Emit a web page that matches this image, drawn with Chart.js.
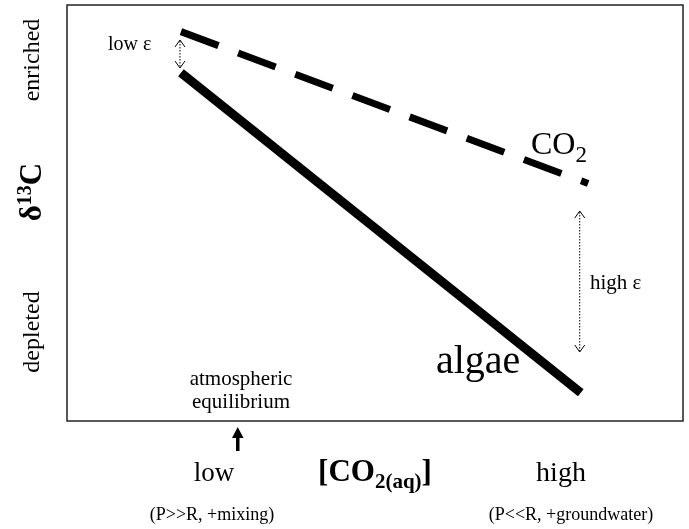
<!DOCTYPE html>
<html>
<head>
<meta charset="utf-8">
<script src="https://cdn.jsdelivr.net/npm/chart.js@4"></script>
<style>
  html, body { margin: 0; padding: 0; background: #fff; }
  #wrap { width: 689px; height: 529px; }
</style>
</head>
<body>
<div id="wrap"><canvas id="chart"></canvas></div>
<script>
// schematic: [CO2(aq)] on x (0-100), d13C on y (0-100)
const xLevels = [18.5, 84.6];
const co2Values = [93.6, 57.1];
const algaeXLevels = [18.5, 83.4];
const algaeValues = [83.7, 6.8];

const serif = '"Liberation Serif", "DejaVu Serif", serif';

// box, text and arrows
const decorations = {
    id: 'decorations',
    afterDraw(chart) {
        const ctx = chart.ctx;
        const area = chart.chartArea;
        const xs = chart.scales.x;
        ctx.save();

        ctx.strokeStyle = '#222';
        ctx.lineWidth = 1.5;
        ctx.strokeRect(area.left, area.top, area.right - area.left, area.bottom - area.top);

        ctx.fillStyle = '#000';
        ctx.textAlign = 'center';
        ctx.textBaseline = 'middle';

        function text(str, x, y, size, bold) {
            ctx.font = (bold ? 'bold ' : '') + size + 'px ' + serif;
            ctx.fillText(str, x, y);
        }

        function vText(str, x, y, size, bold) {
            ctx.save();
            ctx.translate(x, y);
            ctx.rotate(-Math.PI / 2);
            text(str, 0, 0, size, bold);
            ctx.restore();
        }

        // y axis words
        vText('enriched', 33, 60, 24);
        vText('depleted', 33, 332, 24);
        ctx.save();
        ctx.translate(33, 192);
        ctx.rotate(-Math.PI / 2);
        ctx.textAlign = 'left';
        ctx.font = 'bold 31px ' + serif;
        const w1 = ctx.measureText('δ').width;
        ctx.font = 'bold 20px ' + serif;
        const w2 = ctx.measureText('13').width;
        ctx.font = 'bold 31px ' + serif;
        const w3 = ctx.measureText('C').width;
        let sx = -(w1 + w2 + w3) / 2;
        ctx.fillText('δ', sx, 0);
        ctx.font = 'bold 20px ' + serif;
        ctx.fillText('13', sx + w1, -7);
        ctx.font = 'bold 31px ' + serif;
        ctx.fillText('C', sx + w1 + w2, 0);
        ctx.restore();

        // labels in the plot
        ctx.textAlign = 'left';
        text('low ε', 108, 45, 20);
        text('high ε', 590, 283, 21);
        text('algae', 436, 362, 40);
        ctx.font = '32px ' + serif;
        ctx.fillText('CO', 531, 146);
        const coW = ctx.measureText('CO').width;
        ctx.font = '23px ' + serif;
        ctx.fillText('2', 531 + coW, 156);

        ctx.textAlign = 'center';
        text('atmospheric', 241, 379, 21);
        text('equilibrium', 241, 402, 21);

        // x axis words
        text('low', 214, 474, 27);
        text('high', 561, 474, 28);
        text('(P>>R, +mixing)', 212, 515, 18);
        text('(P<<R, +groundwater)', 571, 515, 18);

        ctx.textAlign = 'left';
        ctx.font = 'bold 31px ' + serif;
        const b1 = ctx.measureText('[CO').width;
        ctx.font = 'bold 21px ' + serif;
        const b2 = ctx.measureText('2(aq)').width;
        ctx.font = 'bold 31px ' + serif;
        const b3 = ctx.measureText(']').width;
        let bx = 375 - (b1 + b2 + b3) / 2;
        ctx.fillText('[CO', bx, 473);
        ctx.font = 'bold 21px ' + serif;
        ctx.fillText('2(aq)', bx + b1, 483);
        ctx.font = 'bold 31px ' + serif;
        ctx.fillText(']', bx + b1 + b2, 473);

        // solid up arrow under the axis
        ctx.fillStyle = '#000';
        ctx.fillRect(236, 435, 3.5, 16);
        ctx.beginPath();
        ctx.moveTo(237.75, 427);
        ctx.lineTo(232, 438);
        ctx.lineTo(243.5, 438);
        ctx.closePath();
        ctx.fill();

        // dotted double arrows for epsilon
        function epsArrow(x, y1, y2) {
            ctx.save();
            ctx.strokeStyle = '#000';
            ctx.lineWidth = 1;
            ctx.setLineDash([1.5, 1.5]);
            ctx.beginPath();
            ctx.moveTo(x, y1 + 1);
            ctx.lineTo(x, y2 - 1);
            ctx.stroke();
            ctx.setLineDash([]);
            ctx.beginPath();
            ctx.moveTo(x - 5, y1 + 7);
            ctx.lineTo(x, y1);
            ctx.lineTo(x + 5, y1 + 7);
            ctx.moveTo(x - 5, y2 - 7);
            ctx.lineTo(x, y2);
            ctx.lineTo(x + 5, y2 - 7);
            ctx.stroke();
            ctx.restore();
        }
        epsArrow(xs.getPixelForValue(18.5) - 1, 40, 68);
        epsArrow(xs.getPixelForValue(83.4) - 1, 211, 352);

        ctx.restore();
    }
};

const ctx = document.getElementById('chart');

const data = {
    datasets: [
        {
            label: 'CO2',
            data: xLevels.map((x, i) => ({ x: x, y: co2Values[i] })),
            borderColor: '#000',
            borderWidth: 7,
            borderDash: [40, 21],
            borderCapStyle: 'butt',
            pointRadius: 0,
            fill: false
        },
        {
            label: 'algae',
            data: algaeXLevels.map((x, i) => ({ x: x, y: algaeValues[i] })),
            borderColor: '#000',
            borderWidth: 9,
            borderCapStyle: 'butt',
            pointRadius: 0,
            fill: false
        }
    ]
};

const options = {
    responsive: true,
    maintainAspectRatio: false,
    animation: false,
    layout: {
        padding: { left: 67, top: 5, right: 6, bottom: 108 }
    },
    plugins: {
        legend: { display: false },
        tooltip: { enabled: false }
    },
    scales: {
        x: { type: 'linear', min: 0, max: 100, display: false },
        y: { type: 'linear', min: 0, max: 100, display: false }
    }
};

const chart = new Chart(ctx, {
    type: 'line',
    data: data,
    options: options,
    plugins: [decorations]
});
</script>
</body>
</html>
